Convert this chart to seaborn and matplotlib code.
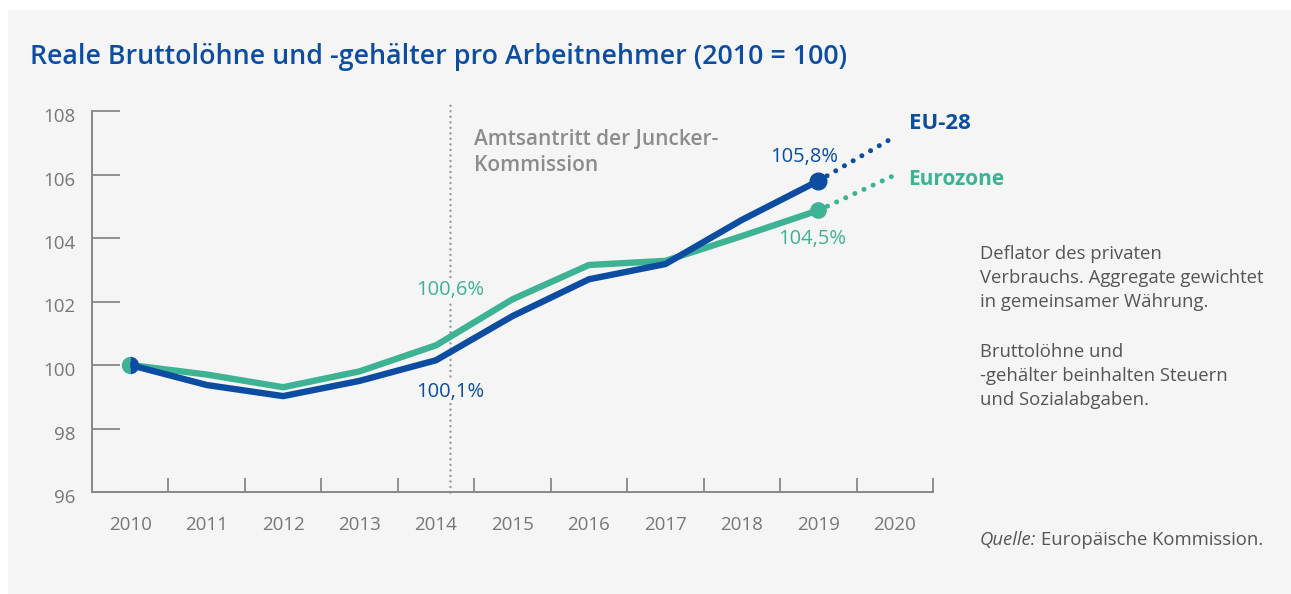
import pandas as pd
import matplotlib.pyplot as plt
import matplotlib.patches as mpatches
import matplotlib.transforms as mtransforms
import seaborn as sns

# --- Daten ---
jahre = [2010, 2011, 2012, 2013, 2014, 2015, 2016, 2017, 2018, 2019]
eu28 = [100.0, 99.37, 99.02, 99.5, 100.15, 101.54, 102.7, 103.18, 104.57, 105.8]
eurozone = [100.0, 99.7, 99.3, 99.8, 100.62, 102.07, 103.15, 103.28, 104.06, 104.87]
prognose_jahre = [2019, 2020]
eu28_prognose = [105.8, 107.19]
eurozone_prognose = [104.87, 105.98]
x_labels = [str(j) for j in range(2010, 2021)]
y_ticks = [96, 98, 100, 102, 104, 106, 108]
juncker = 2014.18

BLAU = '#0c4da2'
GRUEN = '#3db394'
GRAU = '#8c8c8c'
BG = '#f5f5f5'

sns.set_theme(style='white')
plt.rcParams['font.family'] = ['Open Sans', 'DejaVu Sans']

df = pd.DataFrame({
    'Jahr': jahre * 2,
    'Wert': eu28 + eurozone,
    'Reihe': ['EU-28'] * len(jahre) + ['Eurozone'] * len(jahre),
})
df_prog = pd.DataFrame({
    'Jahr': prognose_jahre * 2,
    'Wert': eu28_prognose + eurozone_prognose,
    'Reihe': ['EU-28'] * 2 + ['Eurozone'] * 2,
})
farben = {'EU-28': BLAU, 'Eurozone': GRUEN}

fig = plt.figure(figsize=(12.91, 5.94), dpi=100)
fig.patch.set_facecolor('white')
fig.patches.append(mpatches.Rectangle((8 / 1291, 0), 1, 1 - 10 / 594, transform=fig.transFigure,
                                      facecolor=BG, edgecolor='none', zorder=-10))
ax = fig.add_axes([92 / 1291, 102 / 594, 841 / 1291, 381 / 594])
ax.set_facecolor(BG)

# Juncker-Linie
ax.plot([juncker, juncker], [96, 108.25], color='#999999', lw=1.8,
        linestyle=(0, (0.01, 2.2)), dash_capstyle='round', clip_on=False, zorder=1)

# Prognose (gepunktet) zuerst, damit Marker darüber liegen
for reihe, grp in df_prog.groupby('Reihe'):
    ax.plot(grp['Jahr'], grp['Wert'], color=farben[reihe], lw=3.6,
            linestyle=(0, (0.01, 2.0)), dash_capstyle='round', zorder=2, clip_on=False)

sns.lineplot(data=df[df['Reihe'] == 'Eurozone'], x='Jahr', y='Wert', color=GRUEN,
             lw=4.6, ax=ax, legend=False, zorder=3)
sns.lineplot(data=df[df['Reihe'] == 'EU-28'], x='Jahr', y='Wert', color=BLAU,
             lw=4.6, ax=ax, legend=False, zorder=4)

# Endpunkte
ax.plot(jahre[-1], eurozone[-1], 'o', color=GRUEN, ms=11, zorder=5)
ax.plot(jahre[-1], eu28[-1], 'o', color=BLAU, ms=12, zorder=6)
ax.plot(jahre[0], eu28[0], 'o', ms=12.5, fillstyle='left', markerfacecolor=GRUEN,
        markerfacecoloralt=BLAU, markeredgewidth=0, zorder=7)

# Achsen
ax.set_xlim(2009.5, 2020.5)
ax.set_ylim(96, 108)
ax.set_xticks(range(2010, 2021))
ax.set_xticklabels(x_labels)
ax.set_xticks([j + 0.5 for j in range(2010, 2021)], minor=True)
ax.set_yticks(y_ticks)
ax.set_yticklabels([str(v) for v in y_ticks])
ax.tick_params(axis='x', which='major', bottom=True, length=0, pad=17, labelsize=13.5,
               labelcolor='#777777')
ax.tick_params(axis='x', which='minor', bottom=True, direction='in', length=10, width=1.3,
               color='#888888')
ax.tick_params(axis='y', which='major', left=True, direction='in', length=20, width=1.3,
               color='#888888', pad=12, labelsize=13.5, labelcolor='#777777')
# y-Beschriftungen leicht nach unten versetzt wie im Original
offset = mtransforms.ScaledTranslation(0, -4 / 100, fig.dpi_scale_trans)
for lbl in ax.get_yticklabels():
    lbl.set_transform(lbl.get_transform() + offset)
for s in ['top', 'right']:
    ax.spines[s].set_visible(False)
for s in ['left', 'bottom']:
    ax.spines[s].set_color('#888888')
    ax.spines[s].set_linewidth(1.4)
ax.set_xlabel('')
ax.set_ylabel('')

# Beschriftungen im Diagramm
ax.text(2014.5, 106.7, 'Amtsantritt der Juncker-\nKommission', color=GRAU, fontsize=15,
        fontweight='semibold', va='center', ha='left', linespacing=1.3)
ax.text(2014.18, 102.35, '100,6%', color=GRUEN, fontsize=14.5, ha='center', va='center',
        bbox=dict(facecolor=BG, edgecolor='none', pad=1))
ax.text(2014.18, 99.15, '100,1%', color=BLAU, fontsize=14.5, ha='center', va='center',
        bbox=dict(facecolor=BG, edgecolor='none', pad=1))
ax.text(2018.82, 106.55, '105,8%', color=BLAU, fontsize=14.5, ha='center', va='center')
ax.text(2018.92, 103.98, '104,5%', color=GRUEN, fontsize=14.5, ha='center', va='center')
ax.text(2020.18, 107.6, 'EU-28', color=BLAU, fontsize=16, fontweight='bold', va='center')
ax.text(2020.18, 105.85, 'Eurozone', color=GRUEN, fontsize=15, fontweight='bold', va='center')

# Titel und Anmerkungen
fig.text(30 / 1291, 1 - 57 / 594, 'Reale Bruttolöhne und -gehälter pro Arbeitnehmer (2010 = 100)',
         color=BLAU, fontsize=19.3, fontweight='semibold', va='center', ha='left')
note_kw = dict(color='#555555', fontsize=13.3, va='top', ha='left', linespacing=1.42)
fig.text(980 / 1291, 1 - 245 / 594, 'Deflator des privaten\nVerbrauchs. Aggregate gewichtet\nin gemeinsamer Währung.', **note_kw)
fig.text(980 / 1291, 1 - 343 / 594, 'Bruttolöhne und\n-gehälter beinhalten Steuern\nund Sozialabgaben.', **note_kw)
q = fig.text(980 / 1291, 1 - 540 / 594, 'Quelle:', color='#555555', fontsize=13.3,
             fontstyle='italic', va='center', ha='left')
fig.canvas.draw()
bb = q.get_window_extent()
fig.text(bb.x1 / fig.bbox.width + 5 / 1291, 1 - 540 / 594, 'Europäische Kommission.',
         color='#555555', fontsize=13.3, va='center', ha='left')

fig.savefig('out.png', dpi=100, facecolor=fig.get_facecolor())
